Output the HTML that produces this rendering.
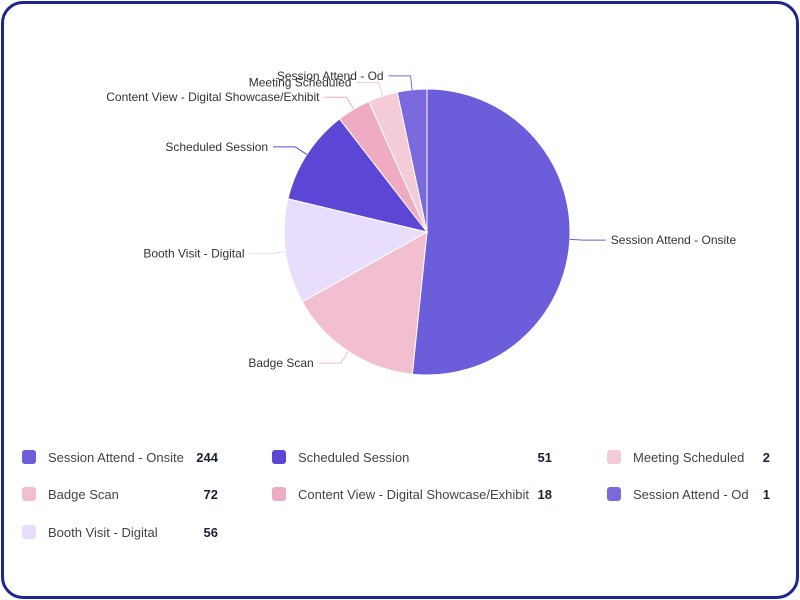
<!DOCTYPE html>
<html><head><meta charset="utf-8"><style>
body{margin:0;width:800px;height:600px;background:#fff;font-family:"Liberation Sans",sans-serif;overflow:hidden}
.frame{position:absolute;left:1px;top:1px;width:792px;height:592px;border:3px solid #1e2590;border-radius:22px}
</style></head><body>
<div class="frame"></div>
<svg id="chart" width="800" height="600" style="position:absolute;left:0;top:0"></svg>
<script>
const categories=["Session Attend - Onsite","Badge Scan","Booth Visit - Digital","Scheduled Session","Content View - Digital Showcase/Exhibit","Meeting Scheduled","Session Attend - Od"];
const values=[244,72,56,51,18,2,1];
const colors=["#6c5ddb","#f2bfd0","#e8defc","#5b46d6","#eeabc2","#f3ccd8","#7b69de"];
const legendOrder=[0,3,5,1,4,6,2];
const NS="http://www.w3.org/2000/svg";
const svg=document.getElementById('chart');
const cx=427,cy=232,R=143,minAngle=12;
function mk(t,a){const e=document.createElementNS(NS,t);for(const k in a)e.setAttribute(k,a[k]);return e;}
// angle computation with min angle
const total=values.reduce((a,b)=>a+b,0);
let small=values.map(v=>v/total*360<minAngle);
let smallSum=0,bigTotal=0;values.forEach((v,i)=>{if(small[i])smallSum+=minAngle;else bigTotal+=v;});
const angles=values.map((v,i)=>small[i]?minAngle:v/bigTotal*(360-smallSum));
let a0=-90;
const pt=(ang,r)=>[cx+r*Math.cos(ang*Math.PI/180),cy+r*Math.sin(ang*Math.PI/180)];
angles.forEach((ang,i)=>{
  const a1=a0+ang;const p0=pt(a0,R),p1=pt(a1,R);
  const path=mk('path',{d:`M${cx},${cy}L${p0[0]},${p0[1]}A${R},${R} 0 ${ang>180?1:0} 1 ${p1[0]},${p1[1]}Z`,fill:colors[i],stroke:'#fff','stroke-width':1});
  
  
  svg.appendChild(path);
  const mid=a0+ang/2;const q0=pt(mid,R),q1=pt(mid,R+14);
  const right=Math.cos(mid*Math.PI/180)>=0;
  const x2=q1[0]+(right?22:-22);
  const line=mk('polyline',{points:`${q0[0]},${q0[1]} ${q1[0]},${q1[1]} ${x2},${q1[1]}`,fill:'none',stroke:colors[i],'stroke-width':1});
  
  
  svg.appendChild(line);
  const t=mk('text',{x:x2+(right?5:-5),y:q1[1]+4,'font-size':12,fill:'#333','text-anchor':right?'start':'end'});
  t.textContent=categories[i];
  
  
  svg.appendChild(t);
  a0=a1;
});
const colX=[22,272,607],valX=[218,552,770],rowY=[458,495,533];
legendOrder.forEach((ci,k)=>{
  const col=Math.floor(k/3)%3, row=k%3;
  const c=[0,1,2], r=[0,1,2];
  const cc=k<3?0:(k<6?1:2);
  // layout: column-major as in reference
  const xx=colX[[0,1,2,0,1,2,0][k]],yy=rowY[[0,0,0,1,1,1,2][k]],vx=valX[[0,1,2,0,1,2,0][k]];
  const g=mk('g',{});
  
  
  g.appendChild(mk('rect',{x:xx,y:yy-8,width:14,height:14,rx:3,fill:colors[ci]}));
  const t=mk('text',{x:xx+26,y:yy+4,'font-size':13,fill:'#444'});t.textContent=categories[ci];g.appendChild(t);
  const v=mk('text',{x:vx,y:yy+4,'font-size':13,'font-weight':'bold',fill:'#1a2233','text-anchor':'end'});v.textContent=values[ci];g.appendChild(v);
  svg.appendChild(g);
});
</script>
</body></html>
